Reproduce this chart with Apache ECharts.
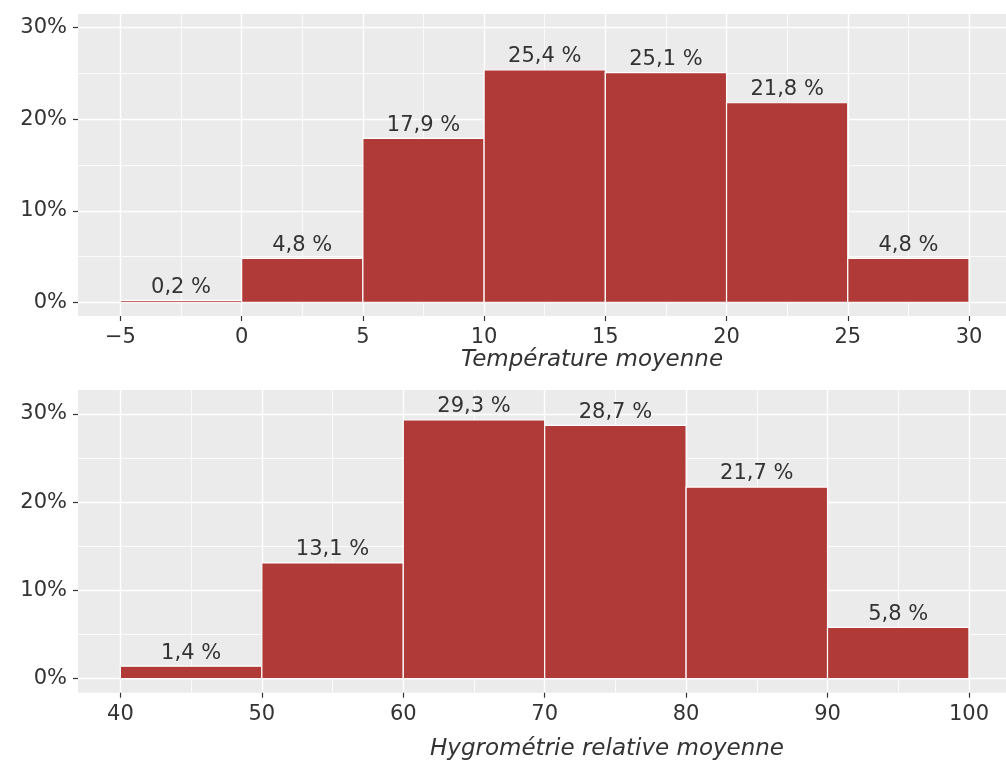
<!DOCTYPE html>
<html>
<head>
<meta charset="utf-8">
<script src="https://cdn.jsdelivr.net/npm/echarts@6/dist/echarts.min.js"></script>
<style>html,body{margin:0;padding:0;background:#fff;}#c{width:1006px;height:763px;}</style>
</head>
<body>
<div id="c"></div>
<script>
// Température moyenne: bin edges and shares (%)
const tempStart = [-5, 0, 5, 10, 15, 20, 25];
const tempEnd   = [0, 5, 10, 15, 20, 25, 30];
const tempPct   = [0.2, 4.8, 17.9, 25.4, 25.1, 21.8, 4.8];
const tempTicks = [-5, 0, 5, 10, 15, 20, 25, 30];

// Hygrométrie relative moyenne
const hygStart = [40, 50, 60, 70, 80, 90];
const hygEnd   = [50, 60, 70, 80, 90, 100];
const hygPct   = [1.4, 13.1, 29.3, 28.7, 21.7, 5.8];
const hygTicks = [40, 50, 60, 70, 80, 90, 100];

const yTicks = [0, 10, 20, 30];

const FONT = '"DejaVu Sans", "Noto Sans", sans-serif';
const FS = 21;
const TXT = '#333333';
const BAR = '#B03A37';

function fmtPct(v) { return v.toFixed(1).replace('.', ',') + ' %'; }

function renderBin(params, api) {
  const x0 = api.value(0), x1 = api.value(1), y = api.value(2);
  const p0 = api.coord([x0, y]);
  const p1 = api.coord([x1, 0]);
  return {
    type: 'rect',
    shape: { x: p0[0], y: p0[1], width: p1[0] - p0[0], height: p1[1] - p0[1] },
    style: { fill: BAR, stroke: '#ffffff', lineWidth: 1.2 },
    textContent: {
      style: { text: fmtPct(y), fill: TXT, font: FS + 'px ' + FONT }
    },
    textConfig: { position: 'top', distance: 2 }
  };
}

function xAxisCfg(gridIndex, min, max, ticks, minorSplit) {
  return {
    type: 'value', gridIndex, min, max,
    minInterval: minorSplit, maxInterval: minorSplit,
    axisLine: { show: false, onZero: false },
    axisTick: { show: true, length: 5, lineStyle: { color: '#333', width: 1.2 }, customValues: ticks },
    axisLabel: { customValues: ticks, color: TXT, fontSize: FS, fontFamily: FONT, margin: 11,
      formatter: v => (v < 0 ? '\u2212' + Math.abs(v) : String(v)) },
    splitLine: { show: true, lineStyle: { color: '#ffffff', width: 1.4 } },
    minorTick: { show: false, splitNumber: 2 },
    minorSplitLine: { show: true, lineStyle: { color: '#ffffff', width: 0.8 } }
  };
}
function yAxisCfg(gridIndex, min, max) {
  return {
    type: 'value', gridIndex, min, max,
    minInterval: 10, maxInterval: 10,
    axisLine: { show: false, onZero: false },
    axisTick: { show: true, length: 5, lineStyle: { color: '#333', width: 1.2 }, customValues: yTicks },
    axisLabel: { customValues: yTicks, color: TXT, fontSize: FS, fontFamily: FONT, margin: 11,
      formatter: v => v + '%' },
    splitLine: { show: true, lineStyle: { color: '#ffffff', width: 1.4 } },
    minorTick: { show: false, splitNumber: 2 },
    minorSplitLine: { show: true, lineStyle: { color: '#ffffff', width: 0.8 } }
  };
}

const chart = echarts.init(document.getElementById('c'), null, { renderer: 'canvas' });
chart.setOption({
  animation: false,
  backgroundColor: '#ffffff',
  grid: [
    { left: 78, top: 14, width: 928, height: 302, show: true, backgroundColor: '#EBEBEB', borderWidth: 0 },
    { left: 78, top: 390, width: 928, height: 302.7, show: true, backgroundColor: '#EBEBEB', borderWidth: 0 }
  ],
  xAxis: [
    xAxisCfg(0, -6.75, 31.526, tempTicks, 5),
    xAxisCfg(1, 37, 102.62, hygTicks, 10)
  ],
  yAxis: [
    yAxisCfg(0, -1.5, 31.5),
    yAxisCfg(1, -1.6, 32.7)
  ],
  graphic: [
    { type: 'text', x: 592, y: 360, style: { text: 'Température moyenne', fill: TXT, font: 'italic 23px ' + FONT, textAlign: 'center', textVerticalAlign: 'middle' } },
    { type: 'text', x: 607, y: 749, style: { text: 'Hygrométrie relative moyenne', fill: TXT, font: 'italic 23px ' + FONT, textAlign: 'center', textVerticalAlign: 'middle' } }
  ],
  series: [
    { type: 'custom', xAxisIndex: 0, yAxisIndex: 0, renderItem: renderBin,
      data: tempPct.map((v, i) => [tempStart[i], tempEnd[i], v]) },
    { type: 'custom', xAxisIndex: 1, yAxisIndex: 1, renderItem: renderBin,
      data: hygPct.map((v, i) => [hygStart[i], hygEnd[i], v]) }
  ]
});
</script>
</body>
</html>
